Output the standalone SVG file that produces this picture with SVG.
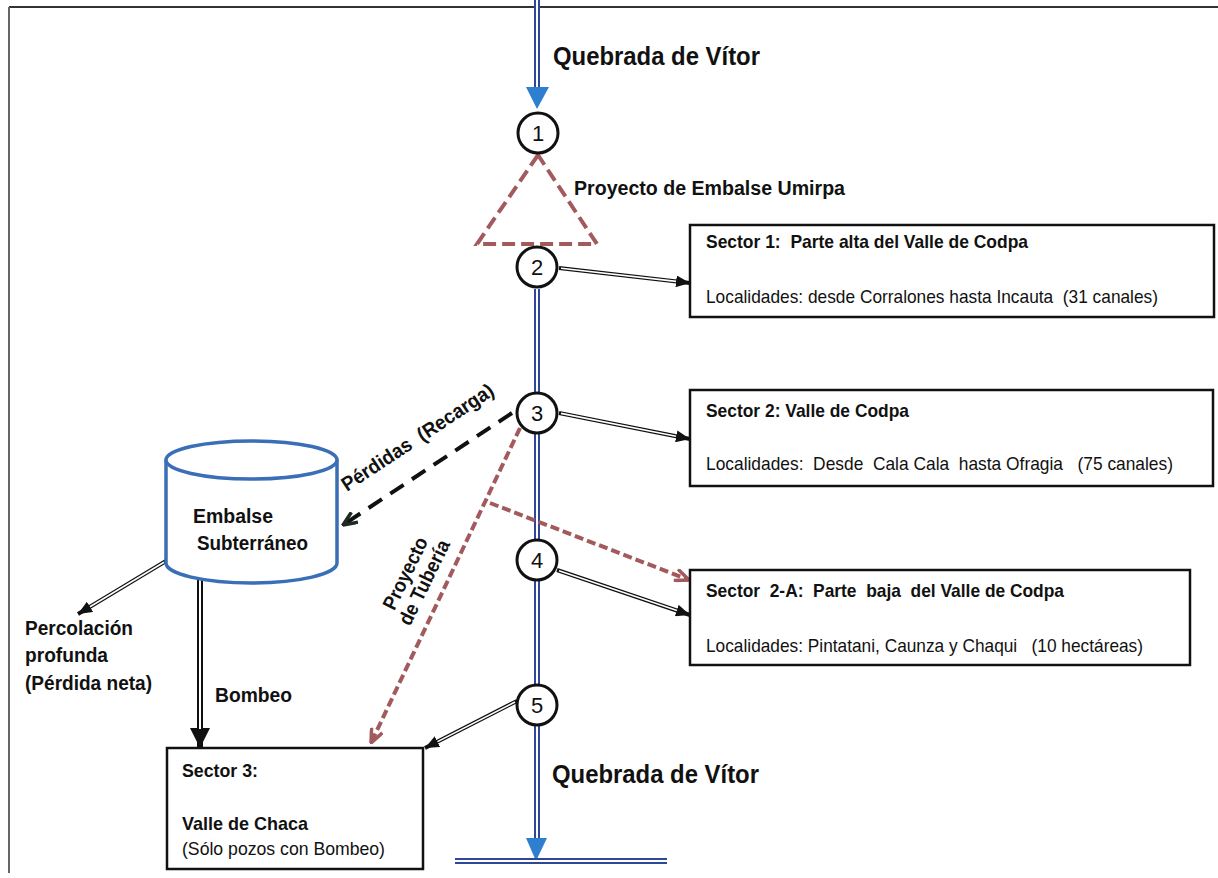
<svg xmlns="http://www.w3.org/2000/svg" width="1218" height="878" viewBox="0 0 1218 878">
<style>
text{font-family:"Liberation Sans Narrow","Liberation Sans",Arial,sans-serif;fill:#111;white-space:pre}
.b{font-weight:bold}
.t17{font-size:19px}
.t18{font-size:20px}
.big{font-size:25px;font-weight:bold}
.num{font-size:22px;font-family:"Liberation Sans",Arial,sans-serif}
.box{fill:#fff;stroke:#111;stroke-width:2.5}
.node{fill:#fff;stroke:#111;stroke-width:3}
.riverO{stroke:#2d4896;stroke-width:6;fill:none}
.riverI{stroke:#fff;stroke-width:2;fill:none}
.dO{stroke:#111;stroke-width:4;fill:none}
.dI{stroke:#fff;stroke-width:1.6;fill:none}
.proj{stroke:#a35a5c;stroke-width:4;fill:none;stroke-dasharray:9 4}
.tri{stroke:#a35a5c;stroke-width:4;fill:none;stroke-dasharray:13 6}
.loss{stroke:#111;stroke-width:4;fill:none;stroke-dasharray:16 10}
</style>
<defs>
<marker id="ah" viewBox="0 0 14 12" refX="14" refY="6" markerWidth="14" markerHeight="12" markerUnits="userSpaceOnUse" orient="auto">
<path d="M0,0 L14,6 L0,12 z" fill="#111"/>
</marker>
<marker id="ahBig" viewBox="0 0 20 20" refX="20" refY="10" markerWidth="20" markerHeight="20" markerUnits="userSpaceOnUse" orient="auto">
<path d="M0,0 L20,10 L0,20 z" fill="#111"/>
</marker>
<marker id="ahLoss" viewBox="0 0 16 14" refX="15" refY="7" markerWidth="16" markerHeight="14" markerUnits="userSpaceOnUse" orient="auto">
<path d="M1,1 L15,7 L1,13" fill="none" stroke="#1f2b22" stroke-width="3.5"/>
</marker>
<marker id="ahProj" viewBox="0 0 16 14" refX="15" refY="7" markerWidth="16" markerHeight="14" markerUnits="userSpaceOnUse" orient="auto">
<path d="M1,1 L15,7 L1,13" fill="none" stroke="#a35a5c" stroke-width="3.5"/>
</marker>
</defs>
<rect width="1218" height="878" fill="#fff"/>
<g id="frame">
<line x1="9" y1="7" x2="1218" y2="7" stroke="#333" stroke-width="2"/>
<line x1="9" y1="7" x2="9" y2="873" stroke="#666" stroke-width="2"/>
</g>
<g id="connectors">
<line class="riverO" x1="537" y1="0" x2="537" y2="90"/>
<line class="riverI" x1="537" y1="0" x2="537" y2="90"/>
<polygon points="526,87 549,87 537,109" fill="#2f7fd0"/>
<line class="riverO" x1="537" y1="289" x2="537" y2="840"/>
<line class="riverI" x1="537" y1="289" x2="537" y2="840"/>
<polygon points="526,838 547,838 536,861" fill="#2f7fd0"/>
<line class="riverO" x1="455" y1="861" x2="667" y2="861"/>
<line class="riverI" x1="455" y1="861" x2="667" y2="861"/>
<polygon class="tri" points="538,155 477,244 597,244"/>
<line class="dO" x1="559" y1="268" x2="690" y2="283" marker-end="url(#ah)"/>
<line class="dI" x1="561" y1="268.2" x2="676" y2="281.4"/>
<line class="dO" x1="559" y1="413" x2="690" y2="439" marker-end="url(#ah)"/>
<line class="dI" x1="561" y1="413.4" x2="676" y2="436.3"/>
<line class="dO" x1="557" y1="570" x2="690" y2="615" marker-end="url(#ah)"/>
<line class="dI" x1="559" y1="570.7" x2="677" y2="610.5"/>
<line class="dO" x1="517" y1="701" x2="425" y2="748" marker-end="url(#ah)"/>
<line class="dI" x1="515" y1="702" x2="437.5" y2="741.6"/>
<line class="dO" x1="166" y1="561" x2="78" y2="614" marker-end="url(#ah)"/>
<line class="dI" x1="164" y1="562.2" x2="90" y2="606.8"/>
<line stroke="#111" stroke-width="6" x1="200" y1="571" x2="200" y2="748" marker-end="url(#ahBig)"/>
<line stroke="#fff" stroke-width="2" x1="200" y1="571" x2="200" y2="729"/>
<line class="loss" x1="512" y1="413" x2="343" y2="525" marker-end="url(#ahLoss)"/>
<line class="proj" x1="520" y1="428" x2="371" y2="743" marker-end="url(#ahProj)"/>
<line class="proj" x1="490" y1="503" x2="689" y2="580" marker-end="url(#ahProj)"/>
</g>
<g id="node1"><circle class="node" cx="538" cy="133" r="20"/><text class="num" x="538" y="141" text-anchor="middle">1</text></g>
<g id="node2"><circle class="node" cx="537" cy="267" r="20"/><text class="num" x="537" y="275" text-anchor="middle">2</text></g>
<g id="node3"><circle class="node" cx="537" cy="413" r="20"/><text class="num" x="537" y="421" text-anchor="middle">3</text></g>
<g id="node4"><circle class="node" cx="537" cy="560" r="20"/><text class="num" x="537" y="568" text-anchor="middle">4</text></g>
<g id="node5"><circle class="node" cx="537" cy="705" r="20"/><text class="num" x="537" y="713" text-anchor="middle">5</text></g>
<g id="labels">
<text class="big" x="553" y="65" textLength="207" lengthAdjust="spacingAndGlyphs">Quebrada de Vítor</text>
<text class="big" x="552" y="783" textLength="207" lengthAdjust="spacingAndGlyphs">Quebrada de Vítor</text>
<text class="b t18" x="574" y="195" textLength="271" lengthAdjust="spacingAndGlyphs">Proyecto de Embalse Umirpa</text>
<text class="b t18" transform="translate(347,492) rotate(-33.4)" textLength="178" lengthAdjust="spacingAndGlyphs">Pérdidas  (Recarga)</text>
<g transform="translate(415,578) rotate(-64)">
<text class="b t18" x="0" y="-4" text-anchor="middle" textLength="78" lengthAdjust="spacingAndGlyphs">Proyecto</text>
<text class="b t18" x="0" y="17" text-anchor="middle" textLength="92" lengthAdjust="spacingAndGlyphs">de Tubería</text>
</g>
<text class="b t18" x="25" y="635" textLength="108" lengthAdjust="spacingAndGlyphs">Percolación</text>
<text class="b t18" x="25" y="662" textLength="83" lengthAdjust="spacingAndGlyphs">profunda</text>
<text class="b t18" x="25" y="690" textLength="127" lengthAdjust="spacingAndGlyphs">(Pérdida neta)</text>
<text class="b t18" x="215" y="702" textLength="77" lengthAdjust="spacingAndGlyphs">Bombeo</text>
</g>
<g id="embalse">
<path d="M166,460 V563 A85.5,20 0 0 0 337,563 V460" fill="#fff" stroke="#3a6fb8" stroke-width="3.5"/>
<ellipse cx="251.5" cy="460" rx="85.5" ry="19" fill="#fff" stroke="#3a6fb8" stroke-width="3.5"/>
<text class="b t18" x="193" y="523" textLength="80" lengthAdjust="spacingAndGlyphs">Embalse</text>
<text class="b t18" x="197" y="550" textLength="111" lengthAdjust="spacingAndGlyphs">Subterráneo</text>
</g>
<g id="sector1">
<rect class="box" x="690" y="225" width="524" height="92"/>
<text class="b t17" x="706" y="248" textLength="322" lengthAdjust="spacingAndGlyphs">Sector 1:  Parte alta del Valle de Codpa</text>
<text class="t17" x="706" y="303" textLength="452" lengthAdjust="spacingAndGlyphs">Localidades: desde Corralones hasta Incauta  (31 canales)</text>
</g>
<g id="sector2">
<rect class="box" x="690" y="390" width="523" height="96"/>
<text class="b t17" x="706" y="417" textLength="203" lengthAdjust="spacingAndGlyphs">Sector 2: Valle de Codpa</text>
<text class="t17" x="706" y="470" textLength="467" lengthAdjust="spacingAndGlyphs">Localidades:  Desde  Cala Cala  hasta Ofragia   (75 canales)</text>
</g>
<g id="sector2a">
<rect class="box" x="690" y="570" width="500" height="95"/>
<text class="b t17" x="706" y="597" textLength="358" lengthAdjust="spacingAndGlyphs">Sector  2-A:  Parte  baja  del Valle de Codpa</text>
<text class="t17" x="706" y="652" textLength="437" lengthAdjust="spacingAndGlyphs">Localidades: Pintatani, Caunza y Chaqui   (10 hectáreas)</text>
</g>
<g id="sector3">
<rect class="box" x="167" y="748" width="256" height="121"/>
<text class="b t17" x="182" y="777" textLength="76" lengthAdjust="spacingAndGlyphs">Sector 3:</text>
<text class="b t17" x="182" y="830" textLength="126" lengthAdjust="spacingAndGlyphs">Valle de Chaca</text>
<text class="t17" x="182" y="855" textLength="203" lengthAdjust="spacingAndGlyphs">(Sólo pozos con Bombeo)</text>
</g>
</svg>
